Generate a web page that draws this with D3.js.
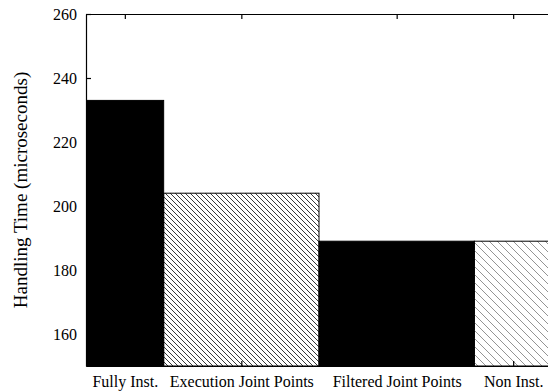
<!DOCTYPE html>
<html>
<head>
<meta charset="utf-8">
<script src="https://cdn.jsdelivr.net/npm/d3@7"></script>
<style>
  body { margin: 0; background: #fff; }
  text { font-family: "Liberation Serif", "Times New Roman", serif; }
</style>
</head>
<body>
<div id="chart"></div>
<script>
// data
var categories = ["Fully Inst.", "Execution Joint Points", "Filtered Joint Points", "Non Inst."];
var values = [233, 204, 189, 189];
var barX = [1, 2, 3, 4];              // bar centres in x units, bar width 1
var labelX = [1.25, 2, 3, 3.75];      // where the category labels sit
var yTicks = [160, 180, 200, 220, 240, 260];

var W = 548, H = 392;
var margin = {top: 14, right: -4, bottom: 26, left: 86};
var width = W - margin.left - margin.right,
    height = H - margin.top - margin.bottom;

var svg = d3.select("#chart").append("svg")
    .attr("width", W)
    .attr("height", H);

var defs = svg.append("defs");

// hatch patterns like gnuplot's fill pattern
function hatch(id, step, color, w){
  defs.append("pattern")
    .attr("id", id)
    .attr("patternUnits", "userSpaceOnUse")
    .attr("width", step)
    .attr("height", step)
  .append("path")
    .attr("d", "M0,0L" + step + "," + step + "M" + (-step/2) + "," + (step/2) + "L" + (step/2) + "," + (step*1.5) +
               "M" + (step/2) + "," + (-step/2) + "L" + (step*1.5) + "," + (step/2))
    .attr("stroke", color)
    .attr("stroke-width", w)
    .attr("fill", "none");
}
hatch("dense", 5, "#222", 0.9);
hatch("sparse", 8, "#888", 0.9);

defs.append("clipPath").attr("id", "plotclip")
  .append("rect")
    .attr("width", width)
    .attr("height", height + 1);

var g = svg.append("g")
    .attr("transform", "translate(" + margin.left + "," + margin.top + ")");

var x = d3.scaleLinear().domain([1, 4]).range([0, width]);
var y = d3.scaleLinear().domain([150, 260]).range([height, 0]);

var fills = ["#000", "url(#dense)", "#000", "url(#sparse)"];

g.append("g")
    .attr("clip-path", "url(#plotclip)")
  .selectAll("rect")
  .data(values)
  .enter()
  .append("rect")
    .attr("x", function(d, i){ return x(barX[i] - 0.5); })
    .attr("width", function(d, i){ return x(barX[i] + 0.5) - x(barX[i] - 0.5); })
    .attr("y", function(d){ return y(d); })
    .attr("height", function(d){ return y(150) - y(d); })
    .attr("fill", function(d, i){ return fills[i]; })
    .attr("stroke", "#000")
    .attr("stroke-width", 1);

// left axis, ticks inward
var yAxis = g.append("g")
    .call(d3.axisLeft(y).tickValues(yTicks).tickSize(-5).tickSizeOuter(0).tickPadding(9));

// bottom axis
var xAxis = g.append("g")
    .attr("transform", "translate(0," + height + ")")
    .call(d3.axisBottom(x).tickValues(labelX)
      .tickFormat(function(d, i){ return categories[i]; })
      .tickSize(-5).tickSizeOuter(0).tickPadding(10));

// top mirror ticks
var topAxis = g.append("g")
    .call(d3.axisTop(x).tickValues(labelX).tickFormat("").tickSize(-5).tickSizeOuter(0));

[yAxis, xAxis, topAxis].forEach(function(a){
  a.selectAll("path, line").attr("stroke", "#000").attr("stroke-width", 1.2);
  a.selectAll("text").attr("fill", "#000").style("font-size", "16px")
    .style("font-family", "'Liberation Serif', serif");
});

svg.append("text")
    .attr("text-anchor", "middle")
    .attr("transform", "translate(27," + (margin.top + height / 2) + ")rotate(-90)")
    .style("font-size", "19px")
    .text("Handling Time (microseconds)");
</script>
</body>
</html>
